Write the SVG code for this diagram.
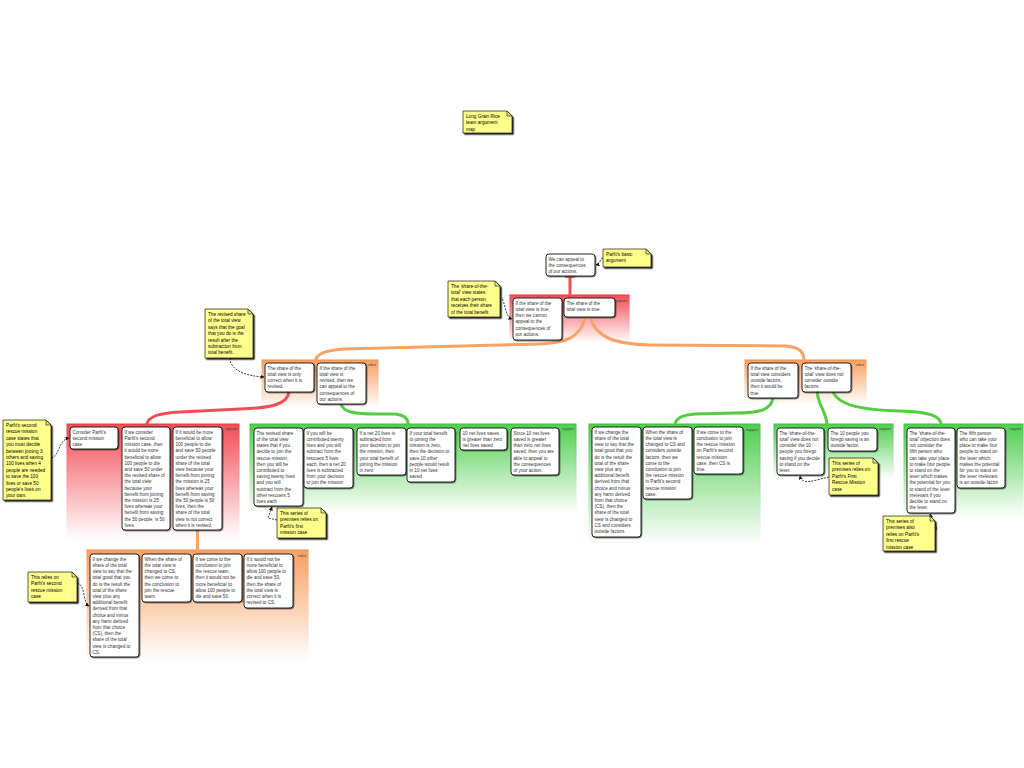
<svg xmlns="http://www.w3.org/2000/svg" width="1024" height="768" viewBox="0 0 1024 768">
<style>
.t{font-family:"Liberation Sans",Arial,sans-serif;font-size:4.6px;fill:#333}
.nt{font-family:"Liberation Sans",Arial,sans-serif;font-size:4.7px;fill:#000}
.lb{font-family:"Liberation Sans",Arial,sans-serif;font-size:3.6px;fill:#444;text-anchor:end}
.node rect{fill:#fff;stroke:#111;stroke-width:0.9;filter:url(#sh)}
.note path.b{fill:#ffff8c;stroke:#111;stroke-width:0.7;filter:url(#nsh)}
.note path.f{fill:#e8e87a;stroke:#111;stroke-width:0.6}
.cr{fill:none;stroke:#f04e55;stroke-width:3;stroke-linecap:round}
.co{fill:none;stroke:#f9a265;stroke-width:3;stroke-linecap:round}
.cg{fill:none;stroke:#55cc44;stroke-width:3;stroke-linecap:round}
.dn{fill:none;stroke:#111;stroke-width:0.8;stroke-dasharray:2,1.2;marker-end:url(#ah)}
.bx{stroke-width:1}
</style>
<defs>
<linearGradient id="gR" x1="0" y1="0" x2="0" y2="1"><stop offset="0" stop-color="#f24d55"/><stop offset="1" stop-color="#fff"/></linearGradient>
<linearGradient id="gO" x1="0" y1="0" x2="0" y2="1"><stop offset="0" stop-color="#f8a061"/><stop offset="1" stop-color="#fff"/></linearGradient>
<linearGradient id="gG" x1="0" y1="0" x2="0" y2="1"><stop offset="0" stop-color="#4fce4f"/><stop offset="1" stop-color="#fff"/></linearGradient>
<linearGradient id="sR" x1="0" y1="0" x2="0" y2="1"><stop offset="0" stop-color="#e83a42"/><stop offset="1" stop-color="#fff"/></linearGradient>
<linearGradient id="sO" x1="0" y1="0" x2="0" y2="1"><stop offset="0" stop-color="#f09050"/><stop offset="1" stop-color="#fff"/></linearGradient>
<linearGradient id="sG" x1="0" y1="0" x2="0" y2="1"><stop offset="0" stop-color="#3fbf3f"/><stop offset="1" stop-color="#fff"/></linearGradient>
<filter id="sh" x="-10%" y="-10%" width="130%" height="130%"><feDropShadow dx="0.8" dy="0.8" stdDeviation="0.4" flood-color="#000" flood-opacity="0.6"/></filter>
<filter id="nsh" x="-10%" y="-10%" width="130%" height="130%"><feDropShadow dx="1.5" dy="1.5" stdDeviation="0.3" flood-color="#000" flood-opacity="0.85"/></filter>
<marker id="ah" markerWidth="4" markerHeight="4" refX="3.5" refY="2" orient="auto" markerUnits="userSpaceOnUse"><path d="M0,0 L4,2 L0,4 z" fill="#111"/></marker>
</defs>

<g id="boxes">
<rect class="bx" x="510" y="295" width="119" height="48" fill="url(#gR)" stroke="url(#sR)"/>
<text class="lb" x="627" y="302">oppose</text>
<rect class="bx" x="262" y="360" width="116" height="48" fill="url(#gO)" stroke="url(#sO)"/>
<text class="lb" x="376" y="366">rebut</text>
<rect class="bx" x="745" y="360" width="121" height="44" fill="url(#gO)" stroke="url(#sO)"/>
<text class="lb" x="864" y="366">rebut</text>
<rect class="bx" x="67" y="424" width="172" height="116" fill="url(#gR)" stroke="url(#sR)"/>
<text class="lb" x="237" y="430">oppose</text>
<rect class="bx" x="250" y="424" width="326" height="90" fill="url(#gG)" stroke="url(#sG)"/>
<text class="lb" x="574" y="430">support</text>
<rect class="bx" x="87" y="550" width="221" height="112" fill="url(#gO)" stroke="url(#sO)"/>
<text class="lb" x="306" y="557">rebut</text>
<rect class="bx" x="589" y="424" width="171" height="121" fill="url(#gG)" stroke="url(#sG)"/>
<text class="lb" x="758" y="431">support</text>
<rect class="bx" x="774" y="424" width="119" height="55" fill="url(#gG)" stroke="url(#sG)"/>
<text class="lb" x="891" y="430">support</text>
<rect class="bx" x="904" y="424" width="119" height="94" fill="url(#gG)" stroke="url(#sG)"/>
<text class="lb" x="1021" y="430">support</text>
</g>

<g id="connectors">
<path class="cr" d="M570,277 L570,296"/>
<path d="M565,277 H575" stroke="#f04e55" stroke-width="1.5"/>
<path class="co" d="M590,317 C596,338 615,344 650,345 L785,346 C800,347 804,352 804,361"/>
<path class="co" d="M585,318 C580,338 565,343 540,344 L345,349 C325,350 316,354 315.5,361"/>
<path class="cr" d="M289,392 C287,405 270,408 240,409 L180,412 C158,413 148,417 147,424"/>
<path class="cg" d="M341,404 C343,412 355,414 375,414 L395,414 C405,415 408,419 408,424"/>
<path class="co" d="M197.5,530 L197.5,551"/>
<path class="cg" d="M773,398 C771,410 760,413 735,413 L695,414 C680,415 676,419 675,424"/>
<path class="cg" d="M817,389 C817,405 826,410 827,424"/>
<path class="cg" d="M832,389 C836,405 860,410 900,411 C930,412 940,416 941,424"/>
<path class="dn" d="M603,258 C599,259 601,264 596,265"/>
<path class="dn" d="M500,297 C506,300 504,316 512,319"/>
<path class="dn" d="M230,358 C230,370 245,376 264,377"/>
<path class="dn" d="M51,458 C60,456 58,440 69,438"/>
<path class="dn" d="M277,520 L268,518 L272,507"/>
<path class="dn" d="M77,583 C86,585 82,602 89,606"/>
<path class="dn" d="M829,477 C815,480 802,486 800,476"/>
<path class="dn" d="M935,532 C940,528 932,520 930,514"/>
</g>

<g id="note-title" class="note"><path class="b" d="M463,111 H507 L512,116 V133 H463 Z"/><path class="f" d="M507,111 V116 H512 Z"/>
<text class="nt" y="118"><tspan x="466">Long Grain Rice</tspan><tspan x="466" dy="6.4">team argument</tspan><tspan x="466" dy="6.4">map</tspan></text></g>

<g id="note-basic" class="note"><path class="b" d="M603,249 H646 L651,254 V267 H603 Z"/><path class="f" d="M646,249 V254 H651 Z"/>
<text class="nt" y="256"><tspan x="606">Parfit's basic</tspan><tspan x="606" dy="6.4">argument</tspan></text></g>

<g id="note-share" class="note"><path class="b" d="M448,281 H495 L500,286 V317 H448 Z"/><path class="f" d="M495,281 V286 H500 Z"/>
<text class="nt" y="288"><tspan x="451">The 'share-of-the-</tspan><tspan x="451" dy="6.4">total' view states</tspan><tspan x="451" dy="6.4">that each person</tspan><tspan x="451" dy="6.4">receives their share</tspan><tspan x="451" dy="6.4">of the total benefit</tspan></text></g>

<g id="note-revised" class="note"><path class="b" d="M205,309 H248 L253,314 V358 H205 Z"/><path class="f" d="M248,309 V314 H253 Z"/>
<text class="nt" y="316"><tspan x="208">The revised share</tspan><tspan x="208" dy="6.4">of the total view</tspan><tspan x="208" dy="6.4">says that the goal</tspan><tspan x="208" dy="6.4">that you do is the</tspan><tspan x="208" dy="6.4">result after the</tspan><tspan x="208" dy="6.4">subtraction from</tspan><tspan x="208" dy="6.4">total benefit.</tspan></text></g>

<g id="note-second" class="note"><path class="b" d="M3,420 H46 L51,425 V500 H3 Z"/><path class="f" d="M46,420 V425 H51 Z"/>
<text class="nt" y="427"><tspan x="6">Parfit's second</tspan><tspan x="6" dy="6.4">rescue mission</tspan><tspan x="6" dy="6.4">case states that</tspan><tspan x="6" dy="6.4">you must decide</tspan><tspan x="6" dy="6.4">between joining 3</tspan><tspan x="6" dy="6.4">others and saving</tspan><tspan x="6" dy="6.4">100 lives when 4</tspan><tspan x="6" dy="6.4">people are needed</tspan><tspan x="6" dy="6.4">to save the 100</tspan><tspan x="6" dy="6.4">lives or save 50</tspan><tspan x="6" dy="6.4">people's lives on</tspan><tspan x="6" dy="6.4">your own.</tspan></text></g>

<g id="note-g1" class="note"><path class="b" d="M277,508 H321 L326,513 V538 H277 Z"/><path class="f" d="M321,508 V513 H326 Z"/>
<text class="nt" y="515"><tspan x="280">This series of</tspan><tspan x="280" dy="6.4">premises relies on</tspan><tspan x="280" dy="6.4">Parfit's first</tspan><tspan x="280" dy="6.4">mission case</tspan></text></g>

<g id="note-o3" class="note"><path class="b" d="M28,572 H72 L77,577 V602 H28 Z"/><path class="f" d="M72,572 V577 H77 Z"/>
<text class="nt" y="579"><tspan x="31">This relies on</tspan><tspan x="31" dy="6.4">Parfit's second</tspan><tspan x="31" dy="6.4">rescue mission</tspan><tspan x="31" dy="6.4">case</tspan></text></g>

<g id="note-g3" class="note"><path class="b" d="M829,458 H873 L878,463 V495 H829 Z"/><path class="f" d="M873,458 V463 H878 Z"/>
<text class="nt" y="465"><tspan x="832">This series of</tspan><tspan x="832" dy="6.4">premises relies on</tspan><tspan x="832" dy="6.4">Parfit's First</tspan><tspan x="832" dy="6.4">Rescue Mission</tspan><tspan x="832" dy="6.4">case</tspan></text></g>

<g id="note-g4" class="note"><path class="b" d="M883,516 H930 L935,521 V551 H883 Z"/><path class="f" d="M930,516 V521 H935 Z"/>
<text class="nt" y="523"><tspan x="886">This series of</tspan><tspan x="886" dy="6.4">premises also</tspan><tspan x="886" dy="6.4">relies on Parfit's</tspan><tspan x="886" dy="6.4">first rescue</tspan><tspan x="886" dy="6.4">mission case</tspan></text></g>

<g id="n-top" class="node"><rect x="546" y="254" width="49" height="22" rx="3"/>
<text class="t" y="260.8"><tspan x="548.5">We can appeal to</tspan><tspan x="548.5" dy="6.2">the consequences</tspan><tspan x="548.5" dy="6.2">of our actions.</tspan></text></g>

<g id="n-r1a" class="node"><rect x="513" y="298" width="49" height="42" rx="3"/>
<text class="t" y="304.8"><tspan x="515.5">If the share of the</tspan><tspan x="515.5" dy="6.2">total view is true,</tspan><tspan x="515.5" dy="6.2">then we cannot</tspan><tspan x="515.5" dy="6.2">appeal to the</tspan><tspan x="515.5" dy="6.2">consequences of</tspan><tspan x="515.5" dy="6.2">our actions.</tspan></text></g>

<g id="n-r1b" class="node"><rect x="564" y="298" width="51" height="19" rx="3"/>
<text class="t" y="304.8"><tspan x="566.5">The share of the</tspan><tspan x="566.5" dy="6.2">total view is true.</tspan></text></g>

<g id="n-o1a" class="node"><rect x="265" y="363" width="49" height="29" rx="3"/>
<text class="t" y="369.8"><tspan x="267.5">The share of the</tspan><tspan x="267.5" dy="6.2">total view is only</tspan><tspan x="267.5" dy="6.2">correct when it is</tspan><tspan x="267.5" dy="6.2">revised.</tspan></text></g>

<g id="n-o1b" class="node"><rect x="317" y="363" width="49" height="41" rx="3"/>
<text class="t" y="369.8"><tspan x="319.5">If the share of the</tspan><tspan x="319.5" dy="6.2">total view is</tspan><tspan x="319.5" dy="6.2">revised, then we</tspan><tspan x="319.5" dy="6.2">can appeal to the</tspan><tspan x="319.5" dy="6.2">consequences of</tspan><tspan x="319.5" dy="6.2">our actions</tspan></text></g>

<g id="n-o2a" class="node"><rect x="748" y="363" width="50" height="35" rx="3"/>
<text class="t" y="369.8"><tspan x="750.5">If the share of the</tspan><tspan x="750.5" dy="6.2">total view considers</tspan><tspan x="750.5" dy="6.2">outside factors,</tspan><tspan x="750.5" dy="6.2">then it would be</tspan><tspan x="750.5" dy="6.2">true</tspan></text></g>

<g id="n-o2b" class="node"><rect x="802" y="363" width="49" height="29" rx="3"/>
<text class="t" y="369.8"><tspan x="804.5">The 'share-of-the-</tspan><tspan x="804.5" dy="6.2">total' view does not</tspan><tspan x="804.5" dy="6.2">consider outside</tspan><tspan x="804.5" dy="6.2">factors.</tspan></text></g>

<g id="n-r2a" class="node"><rect x="70" y="427" width="48" height="22" rx="3"/>
<text class="t" y="433.8"><tspan x="72.5">Consider Parfit's</tspan><tspan x="72.5" dy="6.2">second mission</tspan><tspan x="72.5" dy="6.2">case</tspan></text></g>

<g id="n-r2b" class="node"><rect x="122" y="427" width="48" height="103" rx="3"/>
<text class="t" y="433.8"><tspan x="124.5">If we consider</tspan><tspan x="124.5" dy="6.2">Parfit's second</tspan><tspan x="124.5" dy="6.2">mission case, then</tspan><tspan x="124.5" dy="6.2">it would be more</tspan><tspan x="124.5" dy="6.2">beneficial to allow</tspan><tspan x="124.5" dy="6.2">100 people to die</tspan><tspan x="124.5" dy="6.2">and save 50 under</tspan><tspan x="124.5" dy="6.2">the revised share of</tspan><tspan x="124.5" dy="6.2">the total view</tspan><tspan x="124.5" dy="6.2">because your</tspan><tspan x="124.5" dy="6.2">benefit from joining</tspan><tspan x="124.5" dy="6.2">the mission is 25</tspan><tspan x="124.5" dy="6.2">lives whereas your</tspan><tspan x="124.5" dy="6.2">benefit from saving</tspan><tspan x="124.5" dy="6.2">the 50 people, is 50</tspan><tspan x="124.5" dy="6.2">lives.</tspan></text></g>

<g id="n-r2c" class="node"><rect x="173" y="427" width="49" height="103" rx="3"/>
<text class="t" y="433.8"><tspan x="175.5">If it would be more</tspan><tspan x="175.5" dy="6.2">beneficial to allow</tspan><tspan x="175.5" dy="6.2">100 people to die</tspan><tspan x="175.5" dy="6.2">and save 50 people</tspan><tspan x="175.5" dy="6.2">under the revised</tspan><tspan x="175.5" dy="6.2">share of the total</tspan><tspan x="175.5" dy="6.2">view because your</tspan><tspan x="175.5" dy="6.2">benefit from joining</tspan><tspan x="175.5" dy="6.2">the mission is 25</tspan><tspan x="175.5" dy="6.2">lives whereas your</tspan><tspan x="175.5" dy="6.2">benefit from saving</tspan><tspan x="175.5" dy="6.2">the 50 people is 50</tspan><tspan x="175.5" dy="6.2">lives, then the</tspan><tspan x="175.5" dy="6.2">share of the total</tspan><tspan x="175.5" dy="6.2">view is not correct</tspan><tspan x="175.5" dy="6.2">when it is revised.</tspan></text></g>

<g id="n-g1a" class="node"><rect x="254" y="428" width="49" height="78" rx="3"/>
<text class="t" y="434.8"><tspan x="256.5">The revised share</tspan><tspan x="256.5" dy="6.2">of the total view</tspan><tspan x="256.5" dy="6.2">states that if you</tspan><tspan x="256.5" dy="6.2">decide to join the</tspan><tspan x="256.5" dy="6.2">rescue mission,</tspan><tspan x="256.5" dy="6.2">then you will be</tspan><tspan x="256.5" dy="6.2">contributed to</tspan><tspan x="256.5" dy="6.2">saving twenty lives</tspan><tspan x="256.5" dy="6.2">and you will</tspan><tspan x="256.5" dy="6.2">subtract from the</tspan><tspan x="256.5" dy="6.2">other rescuers 5</tspan><tspan x="256.5" dy="6.2">lives each</tspan></text></g>

<g id="n-g1b" class="node"><rect x="304" y="428" width="49" height="60" rx="3"/>
<text class="t" y="434.8"><tspan x="306.5">If you will be</tspan><tspan x="306.5" dy="6.2">contributed twenty</tspan><tspan x="306.5" dy="6.2">lives and you will</tspan><tspan x="306.5" dy="6.2">subtract from the</tspan><tspan x="306.5" dy="6.2">rescuers 5 lives</tspan><tspan x="306.5" dy="6.2">each, then a net 20</tspan><tspan x="306.5" dy="6.2">lives is subtracted</tspan><tspan x="306.5" dy="6.2">from your decision</tspan><tspan x="306.5" dy="6.2">to join the mission</tspan></text></g>

<g id="n-g1c" class="node"><rect x="357" y="428" width="49" height="47" rx="3"/>
<text class="t" y="434.8"><tspan x="359.5">If a net 20 lives is</tspan><tspan x="359.5" dy="6.2">subtracted from</tspan><tspan x="359.5" dy="6.2">your decision to join</tspan><tspan x="359.5" dy="6.2">the mission, then</tspan><tspan x="359.5" dy="6.2">your total benefit of</tspan><tspan x="359.5" dy="6.2">joining the mission</tspan><tspan x="359.5" dy="6.2">in zero</tspan></text></g>

<g id="n-g1d" class="node"><rect x="407" y="428" width="48" height="54" rx="3"/>
<text class="t" y="434.8"><tspan x="409.5">If your total benefit</tspan><tspan x="409.5" dy="6.2">to joining the</tspan><tspan x="409.5" dy="6.2">mission is zero,</tspan><tspan x="409.5" dy="6.2">then the decision to</tspan><tspan x="409.5" dy="6.2">save 10 other</tspan><tspan x="409.5" dy="6.2">people would result</tspan><tspan x="409.5" dy="6.2">in 10 net lives</tspan><tspan x="409.5" dy="6.2">saved</tspan></text></g>

<g id="n-g1e" class="node"><rect x="460" y="428" width="47" height="22" rx="3"/>
<text class="t" y="434.8"><tspan x="462.5">10 net lives saves</tspan><tspan x="462.5" dy="6.2">is greater than zero</tspan><tspan x="462.5" dy="6.2">net lives saved</tspan></text></g>

<g id="n-g1f" class="node"><rect x="511" y="428" width="48" height="47" rx="3"/>
<text class="t" y="434.8"><tspan x="513.5">Since 10 net lives</tspan><tspan x="513.5" dy="6.2">saved is greater</tspan><tspan x="513.5" dy="6.2">than zero net lives</tspan><tspan x="513.5" dy="6.2">saved, then you are</tspan><tspan x="513.5" dy="6.2">able to appeal to</tspan><tspan x="513.5" dy="6.2">the consequences</tspan><tspan x="513.5" dy="6.2">of your action.</tspan></text></g>

<g id="n-o3a" class="node"><rect x="90" y="554" width="49" height="103" rx="3"/>
<text class="t" y="560.8"><tspan x="92.5">If we change the</tspan><tspan x="92.5" dy="6.2">share of the total</tspan><tspan x="92.5" dy="6.2">view to say that the</tspan><tspan x="92.5" dy="6.2">total good that you</tspan><tspan x="92.5" dy="6.2">do is the result the</tspan><tspan x="92.5" dy="6.2">total of the share</tspan><tspan x="92.5" dy="6.2">view plus any</tspan><tspan x="92.5" dy="6.2">additional benefit</tspan><tspan x="92.5" dy="6.2">derived from that</tspan><tspan x="92.5" dy="6.2">choice and minus</tspan><tspan x="92.5" dy="6.2">any harm derived</tspan><tspan x="92.5" dy="6.2">from that choice</tspan><tspan x="92.5" dy="6.2">(CS), then the</tspan><tspan x="92.5" dy="6.2">share of the total</tspan><tspan x="92.5" dy="6.2">view is changed to</tspan><tspan x="92.5" dy="6.2">CS.</tspan></text></g>

<g id="n-o3b" class="node"><rect x="142" y="554" width="49" height="48" rx="3"/>
<text class="t" y="560.8"><tspan x="144.5">When the share of</tspan><tspan x="144.5" dy="6.2">the total view is</tspan><tspan x="144.5" dy="6.2">changed to CS,</tspan><tspan x="144.5" dy="6.2">then we come to</tspan><tspan x="144.5" dy="6.2">the conclusion to</tspan><tspan x="144.5" dy="6.2">join the rescue</tspan><tspan x="144.5" dy="6.2">team.</tspan></text></g>

<g id="n-o3c" class="node"><rect x="193" y="554" width="49" height="48" rx="3"/>
<text class="t" y="560.8"><tspan x="195.5">If we come to the</tspan><tspan x="195.5" dy="6.2">conclusion to join</tspan><tspan x="195.5" dy="6.2">the rescue team,</tspan><tspan x="195.5" dy="6.2">then it would not be</tspan><tspan x="195.5" dy="6.2">more beneficial to</tspan><tspan x="195.5" dy="6.2">allow 100 people to</tspan><tspan x="195.5" dy="6.2">die and save 50.</tspan></text></g>

<g id="n-o3d" class="node"><rect x="244" y="554" width="49" height="54" rx="3"/>
<text class="t" y="560.8"><tspan x="246.5">If it would not be</tspan><tspan x="246.5" dy="6.2">more beneficial to</tspan><tspan x="246.5" dy="6.2">allow 100 people to</tspan><tspan x="246.5" dy="6.2">die and save 50,</tspan><tspan x="246.5" dy="6.2">then the share of</tspan><tspan x="246.5" dy="6.2">the total view is</tspan><tspan x="246.5" dy="6.2">correct when it is</tspan><tspan x="246.5" dy="6.2">revised to CS.</tspan></text></g>

<g id="n-g2a" class="node"><rect x="592" y="427" width="49" height="110" rx="3"/>
<text class="t" y="433.8"><tspan x="594.5">If we change the</tspan><tspan x="594.5" dy="6.2">share of the total</tspan><tspan x="594.5" dy="6.2">view to say that the</tspan><tspan x="594.5" dy="6.2">total good that you</tspan><tspan x="594.5" dy="6.2">do is the result the</tspan><tspan x="594.5" dy="6.2">total of the share</tspan><tspan x="594.5" dy="6.2">view plus any</tspan><tspan x="594.5" dy="6.2">additional benefit</tspan><tspan x="594.5" dy="6.2">derived from that</tspan><tspan x="594.5" dy="6.2">choice and minus</tspan><tspan x="594.5" dy="6.2">any harm derived</tspan><tspan x="594.5" dy="6.2">from that choice</tspan><tspan x="594.5" dy="6.2">(CS), then the</tspan><tspan x="594.5" dy="6.2">share of the total</tspan><tspan x="594.5" dy="6.2">view is changed to</tspan><tspan x="594.5" dy="6.2">CS and considers</tspan><tspan x="594.5" dy="6.2">outside factors.</tspan></text></g>

<g id="n-g2b" class="node"><rect x="643" y="427" width="49" height="72" rx="3"/>
<text class="t" y="433.8"><tspan x="645.5">When the share of</tspan><tspan x="645.5" dy="6.2">the total view is</tspan><tspan x="645.5" dy="6.2">changed to CS and</tspan><tspan x="645.5" dy="6.2">considers outside</tspan><tspan x="645.5" dy="6.2">factors, then we</tspan><tspan x="645.5" dy="6.2">come to the</tspan><tspan x="645.5" dy="6.2">conclusion to join</tspan><tspan x="645.5" dy="6.2">the rescue mission</tspan><tspan x="645.5" dy="6.2">in Parfit's second</tspan><tspan x="645.5" dy="6.2">rescue mission</tspan><tspan x="645.5" dy="6.2">case.</tspan></text></g>

<g id="n-g2c" class="node"><rect x="694" y="427" width="49" height="47" rx="3"/>
<text class="t" y="433.8"><tspan x="696.5">If we come to the</tspan><tspan x="696.5" dy="6.2">conclusion to join</tspan><tspan x="696.5" dy="6.2">the rescue mission</tspan><tspan x="696.5" dy="6.2">on Parfit's second</tspan><tspan x="696.5" dy="6.2">rescue mission</tspan><tspan x="696.5" dy="6.2">case, then CS is</tspan><tspan x="696.5" dy="6.2">true.</tspan></text></g>

<g id="n-g3a" class="node"><rect x="777" y="428" width="47" height="47" rx="3"/>
<text class="t" y="434.8"><tspan x="779.5">The 'share-of-the-</tspan><tspan x="779.5" dy="6.2">total' view does not</tspan><tspan x="779.5" dy="6.2">consider the 10</tspan><tspan x="779.5" dy="6.2">people you forego</tspan><tspan x="779.5" dy="6.2">saving if you decide</tspan><tspan x="779.5" dy="6.2">to stand on the</tspan><tspan x="779.5" dy="6.2">lever.</tspan></text></g>

<g id="n-g3b" class="node"><rect x="828" y="428" width="49" height="23" rx="3"/>
<text class="t" y="434.8"><tspan x="830.5">The 10 people you</tspan><tspan x="830.5" dy="6.2">forego saving is an</tspan><tspan x="830.5" dy="6.2">outside factor.</tspan></text></g>

<g id="n-g4a" class="node"><rect x="907" y="428" width="48" height="85" rx="3"/>
<text class="t" y="434.8"><tspan x="909.5">The 'share-of-the-</tspan><tspan x="909.5" dy="6.2">total' objection does</tspan><tspan x="909.5" dy="6.2">not consider the</tspan><tspan x="909.5" dy="6.2">fifth person who</tspan><tspan x="909.5" dy="6.2">can take your place</tspan><tspan x="909.5" dy="6.2">to make four people</tspan><tspan x="909.5" dy="6.2">to stand on the</tspan><tspan x="909.5" dy="6.2">lever which makes</tspan><tspan x="909.5" dy="6.2">the potential for you</tspan><tspan x="909.5" dy="6.2">to stand of the lever</tspan><tspan x="909.5" dy="6.2">irrelevant if you</tspan><tspan x="909.5" dy="6.2">decide to stand on</tspan><tspan x="909.5" dy="6.2">the lever.</tspan></text></g>

<g id="n-g4b" class="node"><rect x="957" y="428" width="48" height="60" rx="3"/>
<text class="t" y="434.8"><tspan x="959.5">The fifth person</tspan><tspan x="959.5" dy="6.2">who can take your</tspan><tspan x="959.5" dy="6.2">place to make four</tspan><tspan x="959.5" dy="6.2">people to stand on</tspan><tspan x="959.5" dy="6.2">the lever which</tspan><tspan x="959.5" dy="6.2">makes the potential</tspan><tspan x="959.5" dy="6.2">for you to stand on</tspan><tspan x="959.5" dy="6.2">the lever irrelevant</tspan><tspan x="959.5" dy="6.2">is an outside factor</tspan></text></g>
</svg>
